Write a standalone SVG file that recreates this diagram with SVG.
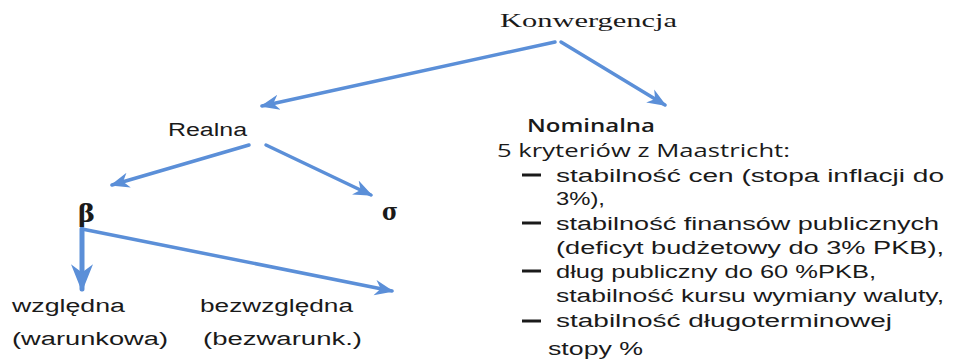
<svg xmlns="http://www.w3.org/2000/svg" width="957" height="359" viewBox="0 0 957 359">
<defs>
<style>
.t{font-family:"Liberation Sans","DejaVu Sans",sans-serif;font-size:18px;fill:#1a1a1a}
.s{font-family:"Liberation Serif","DejaVu Serif",serif;font-size:19px;fill:#1a1a1a}
.g{font-family:"DejaVu Serif","Liberation Serif",serif;font-size:24px;font-weight:bold;fill:#1a1a1a}
.c{stroke:#5b8fd8;stroke-width:3.5;fill:none;stroke-linecap:round}
</style>
<marker id="ah" viewBox="0 0 10 10" refX="9" refY="5" markerWidth="5.5" markerHeight="5.5" orient="auto" markerUnits="strokeWidth">
<path d="M0,1 L10,5 L0,9 L3,5 z" fill="#5b8fd8"/>
</marker>
</defs>
<rect width="957" height="359" fill="#fff"/>
<g id="connectors">
<line class="c" x1="555" y1="42" x2="262" y2="106" marker-end="url(#ah)"/>
<line class="c" x1="561" y1="42" x2="665" y2="105" marker-end="url(#ah)"/>
<line class="c" x1="249" y1="145" x2="112" y2="185" marker-end="url(#ah)"/>
<line class="c" x1="266" y1="145" x2="371" y2="195" marker-end="url(#ah)"/>
<line class="c" x1="82" y1="229" x2="392" y2="291" marker-end="url(#ah)"/>
<line class="c" x1="82" y1="229" x2="82" y2="289" style="stroke-width:5" marker-end="url(#ah)"/>
</g>
<g id="konwergencja"><text class="s" x="500" y="27" textLength="177" lengthAdjust="spacingAndGlyphs">Konwergencja</text></g>
<g id="realna"><text class="t" x="168" y="136" textLength="79" lengthAdjust="spacingAndGlyphs">Realna</text></g>
<g id="beta"><text class="g" x="78" y="222" textLength="17" lengthAdjust="spacingAndGlyphs">β</text></g>
<g id="sigma"><text class="g" x="382" y="220" textLength="16" lengthAdjust="spacingAndGlyphs">σ</text></g>
<g id="wzgledna">
<text class="t" x="12" y="312" textLength="113" lengthAdjust="spacingAndGlyphs">względna</text>
<text class="t" x="12" y="345" textLength="156" lengthAdjust="spacingAndGlyphs">(warunkowa)</text>
</g>
<g id="bezwzgledna">
<text class="t" x="200" y="312" textLength="153" lengthAdjust="spacingAndGlyphs">bezwzględna</text>
<text class="t" x="203" y="345" textLength="159" lengthAdjust="spacingAndGlyphs">(bezwarunk.)</text>
</g>
<g id="nominalna">
<text class="t" x="527" y="132" textLength="128" lengthAdjust="spacingAndGlyphs" style="font-family:'Open Sans','Liberation Sans',sans-serif;font-weight:600">Nominalna</text>
<text class="t" x="497" y="157" textLength="293" lengthAdjust="spacingAndGlyphs" style="font-family:'Open Sans','Liberation Sans',sans-serif">5 kryteriów z Maastricht:</text>
<g style="stroke:#1a1a1a;stroke-width:3">
<line x1="522" y1="175" x2="541" y2="175"/>
<line x1="522" y1="223" x2="541" y2="223"/>
<line x1="522" y1="271" x2="541" y2="271"/>
<line x1="522" y1="321" x2="541" y2="321"/>
</g>
<g style="font-family:'Open Sans','Liberation Sans',sans-serif">
<text class="t" x="556" y="182" textLength="388" lengthAdjust="spacingAndGlyphs">stabilność cen (stopa  inflacji do</text>
<text class="t" x="556" y="205" textLength="49" lengthAdjust="spacingAndGlyphs">3%),</text>
<text class="t" x="556" y="230" textLength="383" lengthAdjust="spacingAndGlyphs">stabilność finansów publicznych</text>
<text class="t" x="556" y="254" textLength="388" lengthAdjust="spacingAndGlyphs">(deficyt budżetowy do 3% PKB),</text>
<text class="t" x="556" y="278" textLength="320" lengthAdjust="spacingAndGlyphs">dług publiczny do 60 %PKB,</text>
<text class="t" x="556" y="302" textLength="388" lengthAdjust="spacingAndGlyphs">stabilność kursu wymiany waluty,</text>
<text class="t" x="556" y="327" textLength="336" lengthAdjust="spacingAndGlyphs">stabilność długoterminowej</text>
<text class="t" x="548" y="355" textLength="95" lengthAdjust="spacingAndGlyphs">stopy %</text>
</g>
</g>
</svg>
